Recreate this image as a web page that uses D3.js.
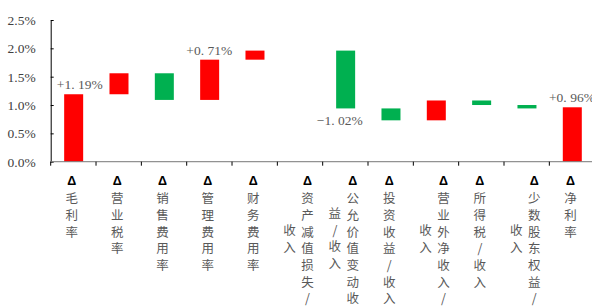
<!DOCTYPE html>
<html>
<head>
<meta charset="utf-8">
<script src="https://cdn.jsdelivr.net/npm/d3@7"></script>
<style>
  body { margin: 0; background: #fff; }
  svg { display: block; }
</style>
</head>
<body>
<div id="chart"></div>
<script>
// categories (vertical text in the original, Δ = change)
const categories = [
  "毛利率", "营业税率", "销售费用率", "管理费用率", "财务费用率",
  "资产减值损失/收入", "公允价值变动收益/收入", "投资收益/收入",
  "营业外净收入/收入", "所得税/收入", "少数股东权益/收入", "净利率"
];
// contribution of each step, in %
const deltas = [1.19, 0.37, -0.47, 0.71, 0.16, 0, -1.02, -0.21, 0.35, -0.08, -0.06];
// final net margin, in %
const total = 0.96;
// which bars get a value label
const labelled = [0, 3, 6, 11];
const yTicks = [0, 0.5, 1.0, 1.5, 2.0, 2.5];

const W = 592, H = 307;
const red = "#FF0000", green = "#00B050";

// build waterfall steps
let run = 0;
const steps = categories.map((c, i) => {
  if (i === categories.length - 1) {
    return {c, i, v: total, y0: 0, y1: total};
  }
  const s = {c, i, v: deltas[i], y0: run, y1: run + deltas[i]};
  run += deltas[i];
  return s;
});

const svg = d3.select("#chart").append("svg")
  .attr("width", W).attr("height", H);

const slot = d3.scaleBand()
  .domain(categories)
  .range([50.7, 50.7 + 45.33 * categories.length])
  .padding(0);

const y = d3.scaleLinear()
  .domain([0, 2.5])
  .range([161.7, 20]);

const barW = 19;
const cx = d => slot(d) + slot.bandwidth() / 2;

// bars
svg.append("g").selectAll("rect")
  .data(steps)
  .join("rect")
  .attr("x", d => cx(d.c) - barW / 2 + 0.3)
  .attr("width", barW)
  .attr("y", d => y(Math.max(d.y0, d.y1)))
  .attr("height", d => Math.abs(y(d.y0) - y(d.y1)))
  .attr("fill", d => d.v >= 0 ? red : green);

// y axis
const yAxis = svg.append("g")
  .attr("transform", "translate(50.7,0)")
  .call(d3.axisLeft(y).tickValues(yTicks).tickSize(0).tickPadding(15))
  .call(g => g.selectAll(".tick text").text(d => d.toFixed(1) + "%"));
yAxis.select(".domain").attr("stroke", "#000").attr("stroke-width", 1);
yAxis.selectAll(".tick line").attr("x1", 0).attr("x2", 3).attr("stroke", "#000");
yAxis.selectAll(".tick text")
  .attr("font-family", "'Liberation Serif', serif")
  .attr("font-size", 13.5)
  .attr("fill", "#404040");

// x axis: line plus ticks at the category boundaries
const xg = svg.append("g");
xg.append("line")
  .attr("x1", 50.7).attr("x2", W)
  .attr("y1", y(0)).attr("y2", y(0))
  .attr("stroke", "#7f7f7f").attr("stroke-opacity", 0.85).attr("stroke-width", 1.3);
xg.selectAll("line.tk")
  .data(categories)
  .join("line")
  .attr("class", "tk")
  .attr("x1", d => slot(d)).attr("x2", d => slot(d))
  .attr("y1", y(0)).attr("y2", y(0) + 4)
  .attr("stroke", "#000");

// value labels (the original font puts a gap after the decimal point)
const fmt = v => d3.format("+.2f")(v) + "%";
const nudge = {0: 6.5, 6: -5.5};
const vl = svg.append("g").selectAll("text")
  .data(steps.filter(d => labelled.includes(d.i)))
  .join("text")
  .attr("x", d => cx(d.c) + (nudge[d.i] || 0))
  .attr("y", d => d.v >= 0 ? y(d.y1) - 5 : y(d.y1) + 17)
  .attr("text-anchor", "middle")
  .attr("font-family", "'Liberation Serif', serif")
  .attr("font-size", 13.5)
  .attr("fill", "#595959");
vl.append("tspan").text(d => fmt(d.v).split(".")[0] + ".");
vl.append("tspan").attr("dx", 3.5).text(d => fmt(d.v).split(".")[1]);

// category labels: vertical text, 8 rows per column, columns go right to left
const maxRows = 8, rowH = 16.7, colW = 18, row0 = 173.5;
const fs = 12.5;
categories.forEach(c => {
  const chars = ["Δ", ...Array.from(c)];
  const cols = [];
  for (let k = 0; k < chars.length; k += maxRows) cols.push(chars.slice(k, k + maxRows));
  const rows = cols[0].length;
  const g = svg.append("g");
  cols.forEach((col, k) => {
    const x = cx(c) - 1.5 + (cols.length - 1) / 2 * colW - k * colW;
    const off = Math.floor((rows - col.length) / 2);
    const t = g.append("text")
      .attr("x", x)
      .attr("y", row0 + off * rowH)
      .style("writing-mode", "vertical-rl")
      .style("text-orientation", "upright")
      .attr("letter-spacing", rowH - fs)
      .attr("font-family", "'Noto Sans CJK SC', sans-serif")
      .attr("font-size", fs)
      .attr("fill", "#595959");
    col.forEach(ch => {
      const isDelta = ch === "Δ";
      t.append("tspan")
        .attr("font-family", isDelta ? "'Liberation Sans', Arial, sans-serif" : null)
        .attr("font-weight", isDelta ? "bold" : null)
        .attr("fill", isDelta ? "#000" : null)
        .text(ch);
    });
  });
});
</script>
</body>
</html>
